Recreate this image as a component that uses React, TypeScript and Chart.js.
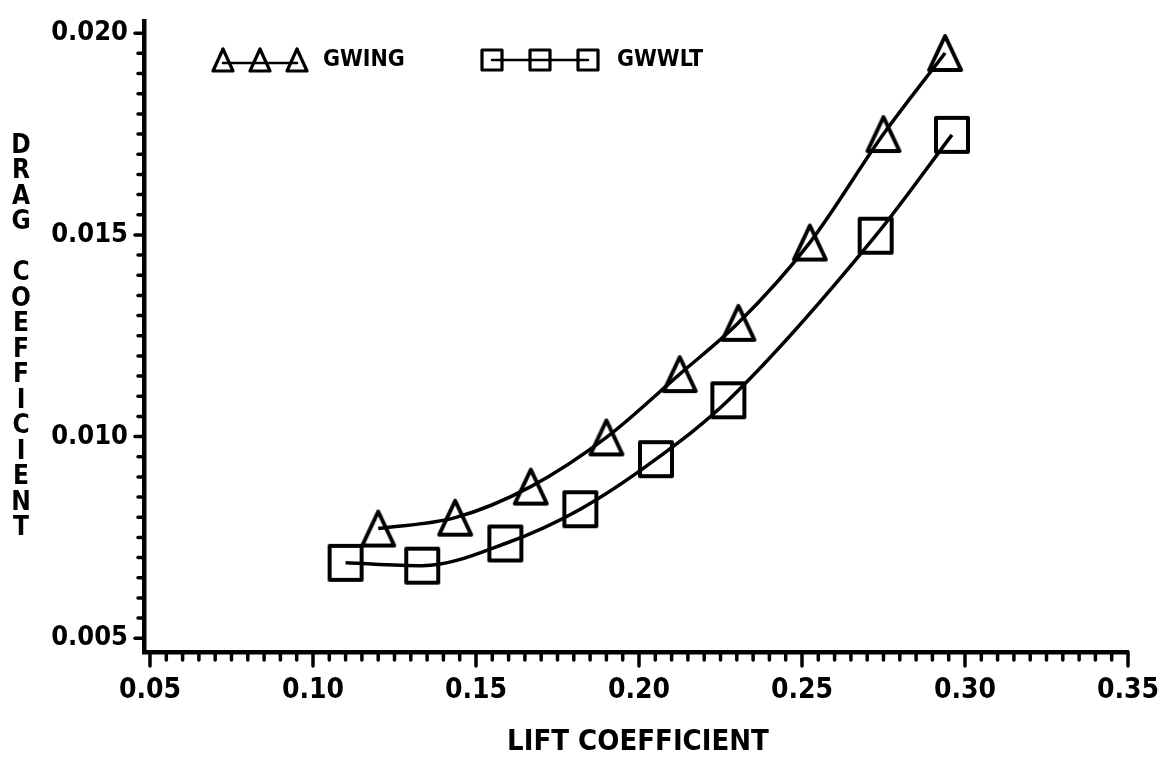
import React, { useEffect, useRef } from "react";
import { Chart, registerables } from "chart.js";

Chart.register(...registerables);

// ---- data ----
const gwingCL = [0.12, 0.1436, 0.1668, 0.19, 0.2125, 0.2305, 0.2524, 0.275, 0.2939];
const gwingCD = [0.00772, 0.00799, 0.00876, 0.00998, 0.01155, 0.01282, 0.01481, 0.0175, 0.01951];
const gwwltCL = [0.11, 0.1335, 0.159, 0.182, 0.2052, 0.2274, 0.2726, 0.296];
const gwwltCD = [0.00687, 0.0068, 0.00735, 0.0082, 0.00944, 0.0109, 0.01498, 0.01748];

const xTickValues = [0.05, 0.1, 0.15, 0.2, 0.25, 0.3, 0.35];
const yTickValues = [0.005, 0.01, 0.015, 0.02];
const xMinorStep = 0.005;
const yMinorStep = 0.0005;

const seriesNames = ["GWING", "GWWLT"];
const xTitle = "LIFT COEFFICIENT";
const yTitle = "DRAG COEFFICIENT";

const FONT = '"DejaVu Sans Condensed", "Liberation Sans Narrow", "DejaVu Sans", sans-serif';

function drawTri(ctx: CanvasRenderingContext2D, cx: number, cy: number, w: number, h: number, lw: number) {
  ctx.beginPath();
  ctx.moveTo(cx, cy - h / 2);
  ctx.lineTo(cx + w / 2, cy + h / 2);
  ctx.lineTo(cx - w / 2, cy + h / 2);
  ctx.closePath();
  ctx.lineWidth = lw;
  ctx.lineJoin = "round";
  ctx.strokeStyle = "#000";
  ctx.stroke();
}

function drawSq(ctx: CanvasRenderingContext2D, cx: number, cy: number, w: number, h: number, lw: number) {
  ctx.beginPath();
  ctx.rect(cx - w / 2, cy - h / 2, w, h);
  ctx.lineWidth = lw;
  ctx.lineJoin = "round";
  ctx.strokeStyle = "#000";
  ctx.stroke();
}

function makeMarker(kind: "tri" | "sq", w: number, h: number, lw: number) {
  const c = document.createElement("canvas");
  const pad = Math.ceil(lw) + 1;
  c.width = w + pad * 2;
  c.height = h + pad * 2;
  const ctx = c.getContext("2d")!;
  if (kind === "tri") drawTri(ctx, c.width / 2, c.height / 2, w, h, lw);
  else drawSq(ctx, c.width / 2, c.height / 2, w, h, lw);
  return c;
}

const decor = {
  id: "decor",
  afterDraw(chart: any) {
    const ctx: CanvasRenderingContext2D = chart.ctx;
    const xs = chart.scales.x;
    const ys = chart.scales.y;
    const area = chart.chartArea;
    ctx.save();
    ctx.strokeStyle = "#000";
    ctx.fillStyle = "#000";
    ctx.lineCap = "round";
    ctx.lineWidth = 3.5;
    // x ticks
    const nx = Math.round((xTickValues[xTickValues.length - 1] - xTickValues[0]) / xMinorStep);
    for (let i = 0; i <= nx; i++) {
      const v = xTickValues[0] + i * xMinorStep;
      const px = xs.getPixelForValue(v);
      const len = i % 10 === 0 ? 14 : 8;
      ctx.beginPath();
      ctx.moveTo(px, area.bottom);
      ctx.lineTo(px, area.bottom + len);
      ctx.stroke();
    }
    // y ticks
    const ny = Math.round((yTickValues[yTickValues.length - 1] - yTickValues[0]) / yMinorStep);
    for (let i = 0; i <= ny; i++) {
      const v = yTickValues[0] + i * yMinorStep;
      const py = ys.getPixelForValue(v);
      const len = i % 10 === 0 ? 9 : 6;
      ctx.beginPath();
      ctx.moveTo(area.left, py);
      ctx.lineTo(area.left - len, py);
      ctx.stroke();
    }
    // y title: stacked letters
    ctx.font = `bold 26px ${FONT}`;
    ctx.textAlign = "center";
    ctx.textBaseline = "middle";
    const letters = yTitle.split("");
    letters.forEach((ch, i) => {
      if (ch !== " ") ctx.fillText(ch, 21, 146 + i * 25.5);
    });
    // x title
    ctx.font = `bold 29px ${FONT}`;
    ctx.fillText(xTitle, 638, 742);
    // legend
    const LY = 60;
    const triX = [223, 260, 297];
    ctx.lineWidth = 2.5;
    ctx.beginPath();
    ctx.moveTo(triX[0], LY + 3);
    ctx.lineTo(triX[2], LY + 3);
    ctx.stroke();
    triX.forEach((x) => drawTri(ctx, x, LY, 20, 22, 3.2));
    ctx.font = `bold 23px ${FONT}`;
    ctx.textAlign = "left";
    ctx.fillText(seriesNames[0], 323, LY);
    const sqX = [492, 540, 588];
    ctx.lineWidth = 2.5;
    ctx.beginPath();
    ctx.moveTo(sqX[0], LY);
    ctx.lineTo(sqX[2], LY);
    ctx.stroke();
    sqX.forEach((x) => drawSq(ctx, x, LY, 20, 20, 3.2));
    ctx.fillText(seriesNames[1], 617, LY);
    ctx.restore();
  },
};

export default function App() {
  const ref = useRef<HTMLCanvasElement>(null);
  useEffect(() => {
    const triImg = makeMarker("tri", 32, 34, 4);
    const sqImg = makeMarker("sq", 32, 34, 4);
    const tickFont = { family: FONT, size: 28, weight: "bold" as const };
    const chart = new Chart(ref.current!, {
      type: "line",
      data: {
        datasets: [
          {
            label: seriesNames[0],
            data: gwingCL.map((x, i) => ({ x, y: gwingCD[i] })),
            borderColor: "#000",
            borderWidth: 3.5,
            backgroundColor: "transparent",
            pointStyle: triImg as any,
            pointRadius: 18,
            cubicInterpolationMode: "monotone",
          },
          {
            label: seriesNames[1],
            data: gwwltCL.map((x, i) => ({ x, y: gwwltCD[i] })),
            borderColor: "#000",
            borderWidth: 3.5,
            backgroundColor: "transparent",
            pointStyle: sqImg as any,
            pointRadius: 18,
            cubicInterpolationMode: "monotone",
          },
        ],
      },
      options: {
        responsive: false,
        devicePixelRatio: 1,
        animation: false,
        layout: { padding: { top: 10, right: 41, left: 0, bottom: 0 } },
        plugins: { legend: { display: false }, tooltip: { enabled: false } },
        scales: {
          x: {
            type: "linear",
            min: 0.04816,
            max: 0.35,
            afterBuildTicks: (s: any) => {
              s.ticks = xTickValues.map((v) => ({ value: v }));
            },
            afterFit: (s: any) => {
              s.height = 111;
              s.paddingLeft = 0;
              s.paddingRight = 0;
            },
            ticks: {
              color: "#000",
              font: tickFont,
              padding: 22,
              maxRotation: 0,
              autoSkip: false,
              callback: (v: any) => Number(v).toFixed(2),
            },
            grid: { display: false, drawTicks: false },
            border: { display: true, color: "#000", width: 4.5 },
          },
          y: {
            type: "linear",
            min: 0.00466,
            max: 0.02029,
            afterBuildTicks: (s: any) => {
              s.ticks = yTickValues.map((v) => ({ value: v }));
            },
            afterFit: (s: any) => {
              s.width = 144;
              s.paddingTop = 0;
              s.paddingBottom = 0;
            },
            ticks: {
              color: "#000",
              font: { family: FONT, size: 27, weight: "bold" as const },
              padding: 16,
              autoSkip: false,
              callback: (v: any) => Number(v).toFixed(3),
            },
            grid: { display: false, drawTicks: false },
            border: { display: true, color: "#000", width: 4.5 },
          },
        },
      },
      plugins: [decor],
    } as any);
    return () => chart.destroy();
  }, []);
  return (
    <div style={{ position: "fixed", left: 0, top: 0, width: 1169, height: 763, background: "#fff" }}>
      <canvas ref={ref} width={1169} height={763} style={{ display: "block" }} />
    </div>
  );
}
